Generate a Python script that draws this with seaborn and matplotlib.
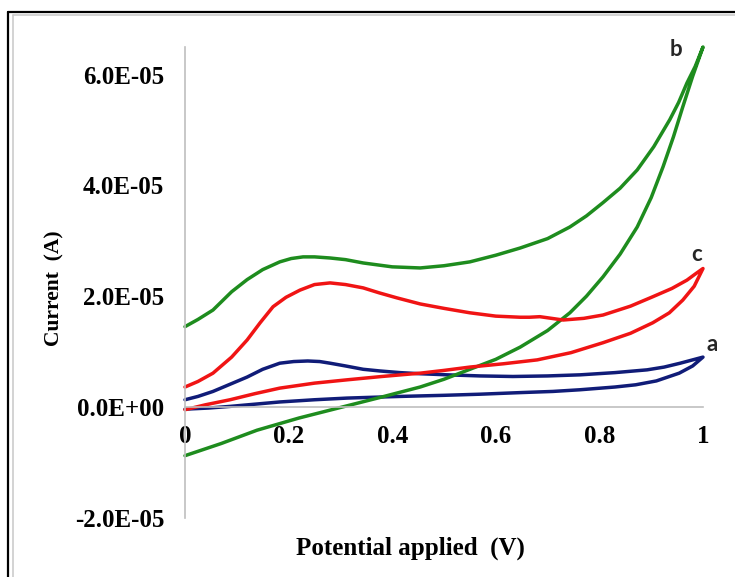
import seaborn as sns
import matplotlib.pyplot as plt
import pandas as pd
from matplotlib.lines import Line2D
from matplotlib.ticker import FuncFormatter

# Cyclic voltammograms: potential (V) vs current (in units of 1E-05 A)
# curve a (navy): forward scan 0 -> 1, then reverse scan 1 -> 0
a_fwd_v = [0, 0.045, 0.087, 0.135, 0.183, 0.25, 0.313, 0.415, 0.50, 0.569, 0.65, 0.71,
           0.762, 0.83, 0.87, 0.91, 0.954, 0.98, 1.0]
a_fwd_i = [-0.04, -0.02, 0.01, 0.05, 0.09, 0.13, 0.16, 0.19, 0.21, 0.23, 0.26, 0.28,
           0.31, 0.36, 0.40, 0.47, 0.61, 0.74, 0.90]
a_rev_v = [1.0, 0.98, 0.956, 0.925, 0.892, 0.83, 0.763, 0.70, 0.633, 0.57, 0.506, 0.454,
           0.415, 0.376, 0.344, 0.31, 0.28, 0.26, 0.237, 0.21, 0.183, 0.15, 0.12, 0.087,
           0.054, 0.025, 0]
a_rev_i = [0.90, 0.85, 0.79, 0.72, 0.67, 0.62, 0.58, 0.56, 0.55, 0.56, 0.58, 0.60,
           0.62, 0.65, 0.68, 0.74, 0.79, 0.82, 0.83, 0.82, 0.79, 0.68, 0.54, 0.41,
           0.28, 0.19, 0.13]

# curve b (green)
b_fwd_v = [0, 0.07, 0.139, 0.22, 0.30, 0.376, 0.454, 0.50, 0.55, 0.60, 0.647, 0.70,
           0.743, 0.775, 0.807, 0.84, 0.873, 0.90, 0.923, 0.943, 0.961, 0.98, 1.0]
b_fwd_i = [-0.88, -0.66, -0.42, -0.20, -0.01, 0.17, 0.36, 0.50, 0.68, 0.86, 1.08, 1.38,
           1.70, 2.00, 2.35, 2.76, 3.25, 3.78, 4.34, 4.88, 5.42, 5.97, 6.50]
b_rev_v = [1.0, 0.985, 0.969, 0.953, 0.936, 0.905, 0.873, 0.84, 0.807, 0.775, 0.743, 0.70,
           0.647, 0.60, 0.55, 0.50, 0.454, 0.40, 0.344, 0.31, 0.28, 0.25, 0.228, 0.205,
           0.183, 0.15, 0.12, 0.09, 0.054, 0.025, 0]
b_rev_i = [6.50, 6.15, 5.85, 5.50, 5.19, 4.70, 4.28, 3.95, 3.69, 3.45, 3.25, 3.04,
           2.87, 2.74, 2.62, 2.55, 2.51, 2.53, 2.60, 2.66, 2.69, 2.71, 2.71, 2.68,
           2.62, 2.48, 2.30, 2.08, 1.75, 1.58, 1.45]

# curve c (red)
c_fwd_v = [0, 0.04, 0.087, 0.135, 0.183, 0.25, 0.313, 0.38, 0.454, 0.50, 0.55, 0.615,
           0.68, 0.745, 0.807, 0.86, 0.903, 0.935, 0.961, 0.983, 1.0]
c_fwd_i = [-0.05, 0.04, 0.13, 0.24, 0.34, 0.43, 0.49, 0.55, 0.61, 0.66, 0.72, 0.78,
           0.85, 0.98, 1.16, 1.33, 1.52, 1.70, 1.93, 2.18, 2.50]
c_rev_v = [1.0, 0.985, 0.969, 0.94, 0.903, 0.86, 0.807, 0.77, 0.73, 0.70, 0.685, 0.665,
           0.647, 0.60, 0.55, 0.50, 0.454, 0.409, 0.375, 0.344, 0.31, 0.28, 0.25, 0.222,
           0.195, 0.17, 0.145, 0.12, 0.09, 0.054, 0.025, 0]
c_rev_i = [2.50, 2.40, 2.29, 2.14, 1.99, 1.82, 1.66, 1.60, 1.57, 1.61, 1.63, 1.62,
           1.62, 1.64, 1.70, 1.78, 1.86, 1.97, 2.06, 2.15, 2.21, 2.24, 2.21, 2.11,
           1.98, 1.81, 1.52, 1.21, 0.90, 0.61, 0.46, 0.36]

x_ticks = [0, 0.2, 0.4, 0.6, 0.8, 1.0]
x_tick_labels = ["0", "0.2", "0.4", "0.6", "0.8", "1"]
y_ticks = [-2e-5, 0, 2e-5, 4e-5, 6e-5]

curves = [
    ("a", a_fwd_v + a_rev_v, a_fwd_i + a_rev_i, "#101c78", (1.017, 1.12)),
    ("b", b_fwd_v + b_rev_v, b_fwd_i + b_rev_i, "#1e8c1e", (0.948, 6.45)),
    ("c", c_fwd_v + c_rev_v, c_fwd_i + c_rev_i, "#f01414", (0.988, 2.75)),
]

sns.set_theme(style="white")
plt.rcParams["font.family"] = ["Liberation Serif", "DejaVu Serif"]
plt.rcParams["font.weight"] = "bold"
plt.rcParams["xtick.color"] = "black"
plt.rcParams["ytick.color"] = "black"

fig = plt.figure(figsize=(7.35, 5.77), dpi=100)
ax = fig.add_axes([185 / 735, 1 - 517.7 / 577, 518 / 735, 470.7 / 577])

# spine position first (it resets the tick objects)
ax.spines["bottom"].set_position(("data", 0))
ax.spines["top"].set_visible(False)
ax.spines["right"].set_visible(False)
for s in ["left", "bottom"]:
    ax.spines[s].set_color("#bfbfbf")
    ax.spines[s].set_linewidth(1.2)

for name, v, i, col, lab in curves:
    df = pd.DataFrame({"V": v, "I": [k * 1e-5 for k in i]})
    sns.lineplot(data=df, x="V", y="I", sort=False, estimator=None,
                 color=col, lw=2.5, ax=ax, clip_on=False,
                 solid_joinstyle="round", solid_capstyle="round")
    ax.text(lab[0], lab[1] * 1e-5, name, ha="center", va="center",
            fontsize=16, fontweight="bold", family=["Lato", "DejaVu Sans"])

ax.set_xlim(0, 1)
ax.set_ylim(-2e-5, 6.5e-5)
ax.set_xticks(x_ticks)
ax.set_xticklabels(x_tick_labels)
ax.set_yticks(y_ticks)
ax.yaxis.set_major_formatter(FuncFormatter(lambda val, pos: "{:.1E}".format(val)))
ax.tick_params(length=0, labelsize=18, pad=15, colors="black")
ax.tick_params(axis="x", pad=13)
for lbl in ax.get_xticklabels() + ax.get_yticklabels():
    lbl.set_fontweight("bold")

ax.set_xlabel("")
ax.set_ylabel("")
ax.text(0.436, -0.064, "Potential applied  (V)", transform=ax.transAxes,
        ha="center", va="center", fontsize=18, fontweight="bold", color="black")
ax.text(-0.251, 0.488, "Current  (A)", transform=ax.transAxes, rotation=90,
        ha="center", va="center", fontsize=15.5, fontweight="bold", color="black")

# outer frame (double line, cut at right and bottom)
fig.add_artist(Line2D([8 / 735, 8 / 735], [0, 1 - 11.5 / 577], transform=fig.transFigure, color="black", lw=1.6))
fig.add_artist(Line2D([8 / 735, 1], [1 - 11.5 / 577, 1 - 11.5 / 577], transform=fig.transFigure, color="black", lw=1.6))
fig.add_artist(Line2D([13.3 / 735, 13.3 / 735], [0, 1 - 15.3 / 577], transform=fig.transFigure, color="#c8c8c8", lw=1.1))
fig.add_artist(Line2D([13.3 / 735, 1], [1 - 15.3 / 577, 1 - 15.3 / 577], transform=fig.transFigure, color="#c8c8c8", lw=1.1))

fig.savefig("out.png", dpi=100)
